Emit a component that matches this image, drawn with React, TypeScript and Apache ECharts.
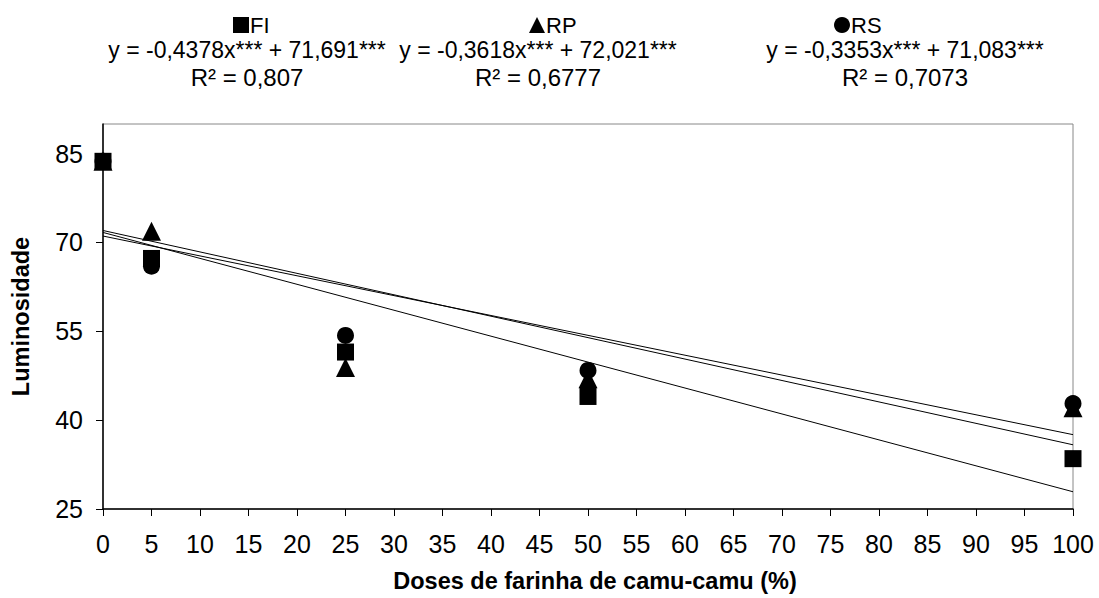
import React, { useEffect, useRef } from "react";
import * as echarts from "echarts";

const doses = [0, 5, 25, 50, 100];
const fiValues = [83.7, 67.3, 51.5, 44.0, 33.5];
const rpValues = [83.7, 71.9, 48.9, 47.0, 42.1];
const rsValues = [83.7, 66.0, 54.3, 48.4, 42.8];
const seriesNames = ["FI", "RP", "RS"];
const slopes = [-0.4378, -0.3618, -0.3353];
const intercepts = [71.691, 72.021, 71.083];
const equations = [
  "y = -0,4378x*** + 71,691***",
  "y = -0,3618x*** + 72,021***",
  "y = -0,3353x*** + 71,083***",
];
const r2Labels = ["R² = 0,807", "R² = 0,6777", "R² = 0,7073"];
const xTicks = [0, 5, 10, 15, 20, 25, 30, 35, 40, 45, 50, 55, 60, 65, 70, 75, 80, 85, 90, 95, 100];
const yTicks = [25, 40, 55, 70, 85];

const FONT = "'Liberation Sans', Arial, sans-serif";

export default function App() {
  const ref = useRef<HTMLDivElement>(null);
  useEffect(() => {
    document.body.style.margin = "0";
    if (!ref.current) return;
    const chart = echarts.init(ref.current, undefined, { renderer: "svg" });
    const symbols = ["rect", "triangle", "circle"];
    const sizes = [17, 19, 17];
    const values = [fiValues, rpValues, rsValues];
    const legendLeft = [228, 524, 829];
    const eqCenters = [247, 538, 905];

    const lineSeries = slopes.map((a, i) => ({
      type: "line",
      name: seriesNames[i] + " trend",
      data: [
        [0, a * 0 + intercepts[i]],
        [100, a * 100 + intercepts[i]],
      ],
      symbol: "none",
      lineStyle: { color: "#000", width: 1 },
      silent: true,
      z: 1,
    }));
    const scatterSeries = values.map((vals, i) => ({
      type: "scatter",
      name: seriesNames[i],
      data: doses.map((d, j) => [d, vals[j]]),
      symbol: symbols[i],
      symbolSize: sizes[i],
      itemStyle: { color: "#000", opacity: 1 },
      clip: false,
      z: 3,
    }));

    chart.setOption({
      animation: false,
      textStyle: { fontFamily: FONT },
      grid: {
        left: 103,
        right: 26,
        top: 124,
        bottom: 84,
        show: true,
        borderColor: "#888",
        borderWidth: 1,
      },
      legend: seriesNames.map((n, i) => ({
        data: [{ name: n, icon: symbols[i], itemStyle: { color: "#000", opacity: 1 } }],
        left: legendLeft[i],
        top: 9,
        itemWidth: 16,
        itemHeight: 16,
        itemGap: 2,
        textStyle: { fontSize: 22, color: "#000", fontFamily: FONT, padding: [0, 0, 0, -4] },
        selectedMode: false,
      })),
      graphic: [
        ...equations.map((t, i) => ({
          type: "text",
          x: eqCenters[i],
          y: 50,
          style: {
            text: t,
            fill: "#000",
            font: `23px ${FONT}`,
            textAlign: "center",
            textVerticalAlign: "middle",
          },
        })),
        ...r2Labels.map((t, i) => ({
          type: "text",
          x: eqCenters[i],
          y: 77,
          style: {
            text: t,
            fill: "#000",
            font: `24px ${FONT}`,
            textAlign: "center",
            textVerticalAlign: "middle",
          },
        })),
      ],
      xAxis: {
        type: "value",
        min: 0,
        max: 100,
        interval: 5,
        name: "Doses de farinha de camu-camu (%)",
        nameLocation: "middle",
        nameGap: 60,
        nameTextStyle: {
          fontSize: 23.5,
          fontWeight: "bold",
          color: "#000",
          fontFamily: FONT,
          padding: [0, 0, 0, 14],
        },
        axisLine: { show: true, lineStyle: { color: "#000", width: 1.5 } },
        axisTick: { show: true, length: 7, lineStyle: { color: "#000" }, customValues: xTicks },
        axisLabel: { fontSize: 25, color: "#000", margin: 22, customValues: xTicks },
        splitLine: { show: false },
      },
      yAxis: {
        type: "value",
        min: 25,
        max: 90,
        interval: 15,
        name: "Luminosidade",
        nameLocation: "middle",
        nameGap: 70,
        nameRotate: 90,
        nameTextStyle: { fontSize: 23.5, fontWeight: "bold", color: "#000", fontFamily: FONT },
        axisLine: { show: true, lineStyle: { color: "#000", width: 1.5 } },
        axisTick: { show: true, length: 7, lineStyle: { color: "#000" }, customValues: yTicks },
        axisLabel: { fontSize: 25, color: "#000", margin: 20, customValues: yTicks },
        splitLine: { show: false },
      },
      series: [...lineSeries, ...scatterSeries],
    });
    return () => chart.dispose();
  }, []);
  return <div ref={ref} style={{ width: 1099, height: 598 }} />;
}
